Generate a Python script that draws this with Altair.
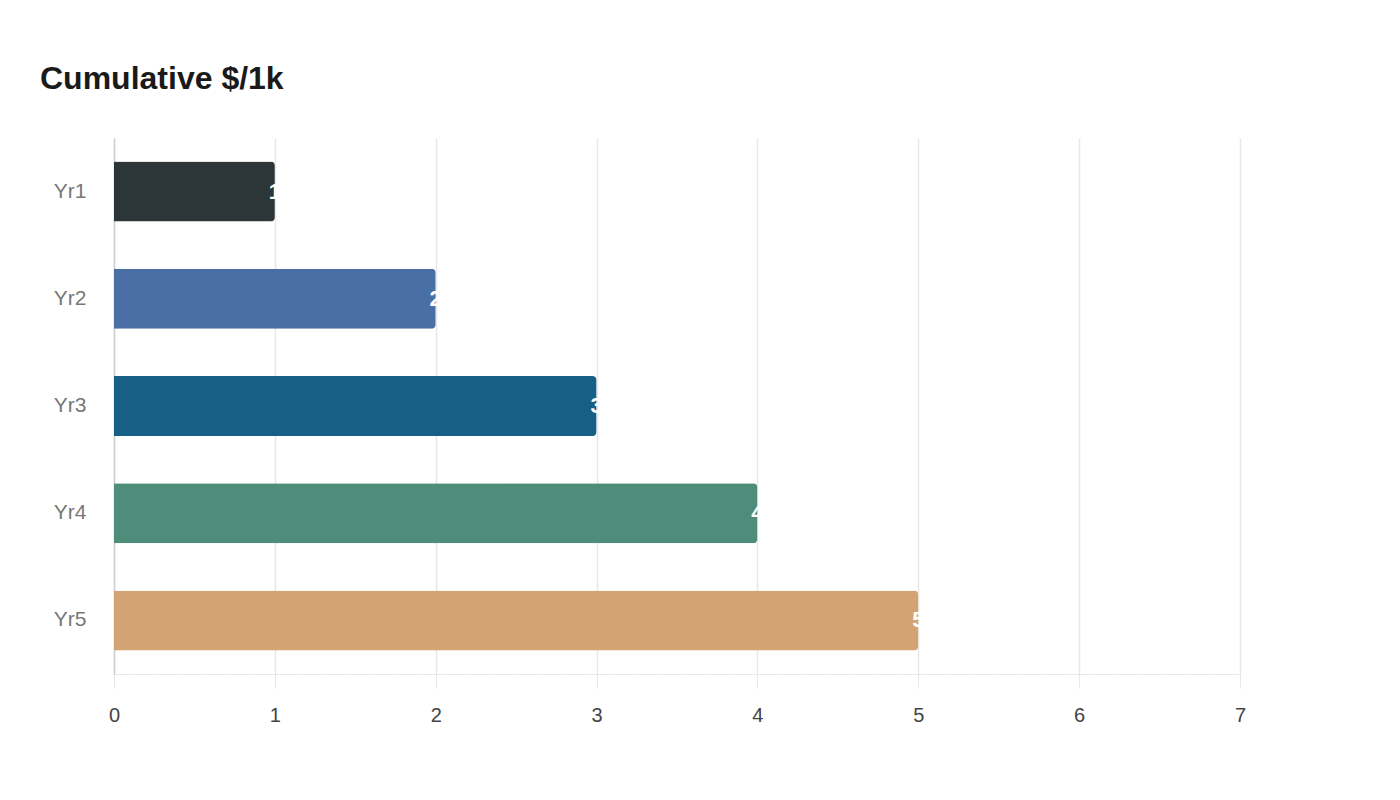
import altair as alt
import pandas as pd

categories = ["Yr1", "Yr2", "Yr3", "Yr4", "Yr5"]
values = [1, 2, 3, 4, 5]
colors = ["#2c3538", "#4a6fa5", "#185f86", "#4f8c7a", "#d4a373"]

df = pd.DataFrame({"cat": categories, "val": values})

y = alt.Y("cat:N", sort=categories, title=None,
          scale=alt.Scale(paddingInner=0.44, paddingOuter=0.22),
          axis=alt.Axis(labelFontSize=21, labelColor="#777777", labelFont="Liberation Sans",
                        labelPadding=28, ticks=False, domainColor="#d0d0d0", domainWidth=1.5,
                        grid=False))
x = alt.X("val:Q", title=None,
          scale=alt.Scale(domain=[0, 7], nice=False),
          axis=alt.Axis(values=[0, 1, 2, 3, 4, 5, 6, 7], labelFontSize=20, labelColor="#444444",
                        labelFont="Liberation Sans", tickSize=14, tickColor="#e8e8e8",
                        labelPadding=17, labelFlush=False, domainColor="#dddddd", domainDash=[2, 1],
                        gridColor="#e8e8e8", gridWidth=1.5, format="d"))

bars = alt.Chart(df).mark_bar(cornerRadiusEnd=4).encode(
    x=x, y=y,
    color=alt.Color("cat:N", scale=alt.Scale(domain=categories, range=colors), legend=None),
)

labels = alt.Chart(df).mark_text(color="white", fontSize=22, fontWeight="bold",
                                 font="Liberation Sans", align="center", baseline="middle").encode(
    x="val:Q", y=alt.Y("cat:N", sort=categories), text="val:Q"
)

chart = alt.layer(bars, labels).properties(
    width=1126, height=536,
    title=alt.TitleParams("Cumulative $/1k", anchor="start", frame="group", fontSize=32,
                          fontWeight="bold", font="Liberation Sans", color="#1a1a1a",
                          offset=42, dx=-74),
    padding={"left": 32, "top": 55, "right": 20, "bottom": 20},
).configure_view(stroke=None)

chart.save("out.html", embed_options={"renderer": "svg", "actions": False})
